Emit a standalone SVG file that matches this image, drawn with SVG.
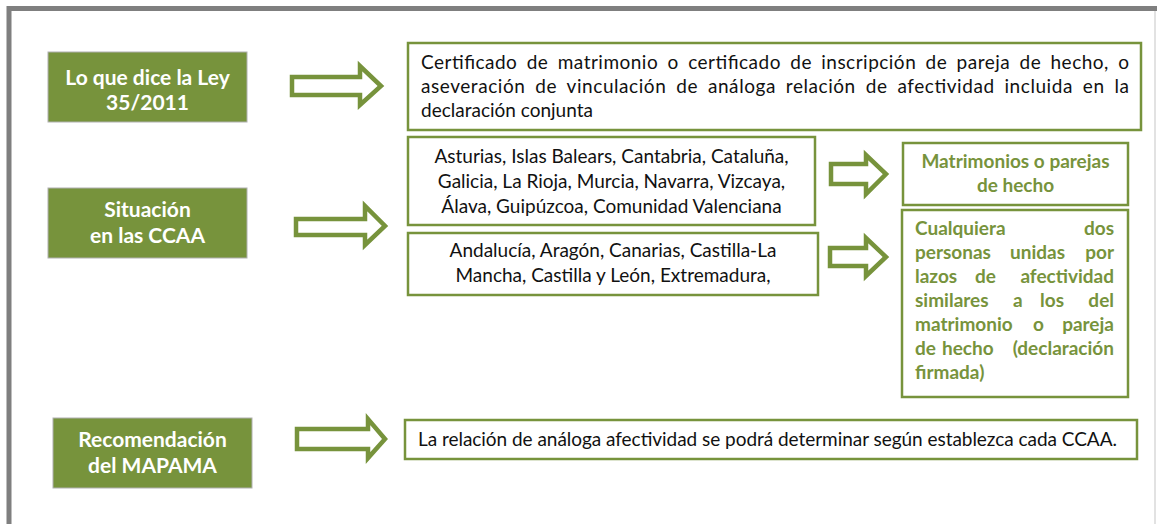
<svg xmlns="http://www.w3.org/2000/svg" width="1157" height="524" viewBox="0 0 1157 524">
<style>
.lbl rect{fill:#77933C;stroke:#b0b0b0;stroke-width:1}
.lbl text{font-family:Lato,"Liberation Sans",sans-serif;font-weight:bold;font-size:21px;fill:#ffffff;text-anchor:middle}
.box rect{fill:#ffffff;stroke:#77933C;stroke-width:2.5}
.t{font-family:Lato,"Liberation Sans",sans-serif;font-size:19px;fill:#111111}
.g{font-family:Lato,"Liberation Sans",sans-serif;font-size:19px;font-weight:bold;fill:#77933C}
.c{text-anchor:middle}
.e{text-anchor:end}
.arr path{fill:#ffffff;stroke:#77933C;stroke-width:4.5;stroke-linejoin:miter}
</style>
<rect x="0" y="0" width="1157" height="524" fill="#ffffff"/>
<g id="frame">
<path d="M9 524 V8.5 H1157" fill="none" stroke="#7f7f7f" stroke-width="5"/>
<line x1="1155" y1="11" x2="1155" y2="524" stroke="#d9d9d9" stroke-width="1.5"/>
</g>
<g id="ley" class="lbl">
<rect x="48" y="52" width="199" height="70"/>
<text x="147.5" y="85">Lo que dice la Ley</text>
<text x="147.5" y="110">35/2011</text>
</g>
<g id="situacion" class="lbl">
<rect x="48" y="188" width="199" height="70"/>
<text x="147.5" y="217">Situación</text>
<text x="147.5" y="243">en las CCAA</text>
</g>
<g id="recomendacion" class="lbl">
<rect x="53" y="418" width="199" height="70"/>
<text x="152.5" y="447">Recomendación</text>
<text x="152.5" y="473">del MAPAMA</text>
</g>
<g id="certificado" class="box">
<rect x="408" y="43" width="733" height="87"/>
<text class="t" x="421" y="69" word-spacing="4" textLength="708" lengthAdjust="spacing">Certificado de matrimonio o certificado de inscripción de pareja de hecho, o</text>
<text class="t" x="421" y="93" word-spacing="4.5" textLength="708" lengthAdjust="spacing">aseveración de vinculación de análoga relación de afectividad incluida en la</text>
<text class="t" x="421" y="117">declaración conjunta</text>
</g>
<g id="grupo1" class="box">
<rect x="408" y="137" width="407" height="88"/>
<text class="t c" x="611.5" y="163">Asturias, Islas Balears, Cantabria, Cataluña,</text>
<text class="t c" x="611.5" y="188">Galicia, La Rioja, Murcia, Navarra, Vizcaya,</text>
<text class="t c" x="611.5" y="213">Álava, Guipúzcoa, Comunidad Valenciana</text>
</g>
<g id="grupo2" class="box">
<rect x="408" y="233" width="410" height="62"/>
<text class="t c" x="613" y="257">Andalucía, Aragón, Canarias, Castilla-La</text>
<text class="t c" x="613" y="282">Mancha, Castilla y León, Extremadura,</text>
</g>
<g id="matrimonios" class="box">
<rect x="903" y="143" width="225" height="62"/>
<text class="g c" x="1015.5" y="168">Matrimonios o parejas</text>
<text class="g c" x="1015.5" y="192">de hecho</text>
</g>
<g id="cualquiera" class="box">
<rect x="902" y="210" width="226" height="187"/>
<text class="g" x="915" y="235">Cualquiera</text><text class="g e" x="1114" y="235">dos</text>
<text class="g" x="915" y="259">personas</text><text class="g" x="1010" y="259">unidas</text><text class="g e" x="1114" y="259">por</text>
<text class="g" x="915" y="283">lazos</text><text class="g" x="975" y="283">de</text><text class="g e" x="1114" y="283">afectividad</text>
<text class="g" x="915" y="307">similares</text><text class="g" x="1013" y="307">a</text><text class="g" x="1040" y="307">los</text><text class="g e" x="1114" y="307">del</text>
<text class="g" x="915" y="331">matrimonio</text><text class="g" x="1033" y="331">o</text><text class="g e" x="1114" y="331">pareja</text>
<text class="g" x="915" y="355">de</text><text class="g" x="942" y="355">hecho</text><text class="g e" x="1114" y="355">(declaración</text>
<text class="g" x="915" y="379">firmada)</text>
</g>
<g id="relacion" class="box">
<rect x="405" y="420" width="732" height="39"/>
<text class="t" x="418" y="446" textLength="699" lengthAdjust="spacing">La relación de análoga afectividad se podrá determinar según establezca cada CCAA.</text>
</g>
<g id="connectors" class="arr">
<path d="M292 77 H360 V66 L381 86 L360 105 V95 H292 Z"/>
<path d="M296 219 H365 V206 L385 226 L365 245 V235 H296 Z"/>
<path d="M831 164 H866 V155 L886 174 L866 194 V184 H831 Z"/>
<path d="M830 248 H866 V238 L886 257 L866 276 V266 H830 Z"/>
<path d="M297 429 H368 V419 L385 439 L368 458 V449 H297 Z"/>
</g>
</svg>
